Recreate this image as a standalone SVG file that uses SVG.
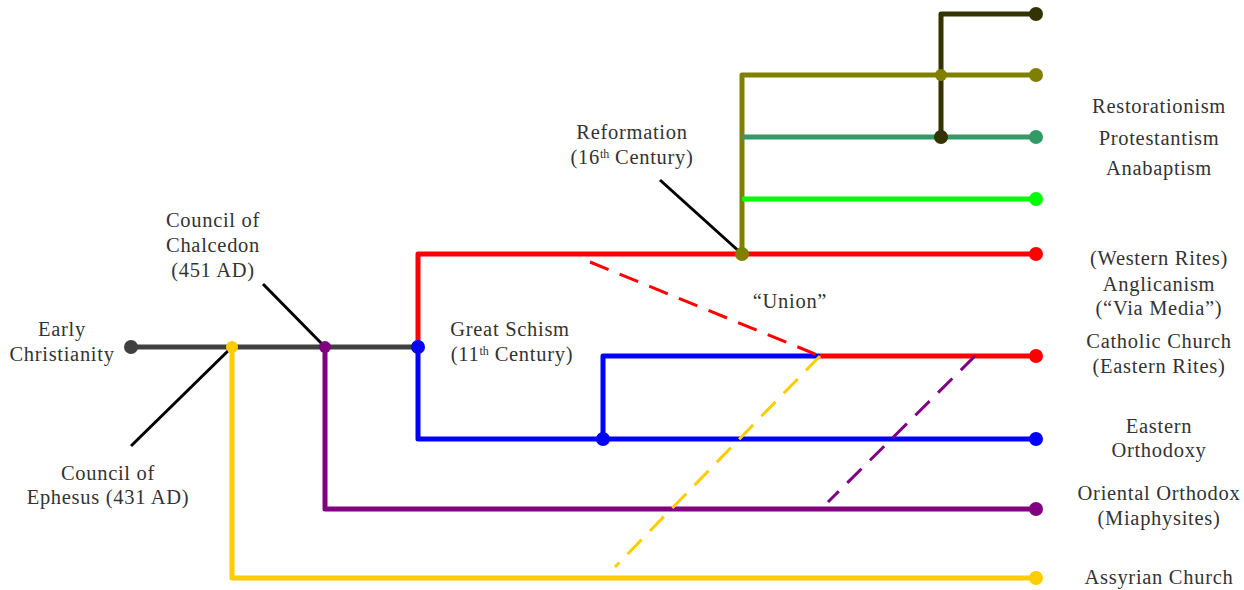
<svg xmlns="http://www.w3.org/2000/svg" width="1244" height="590" viewBox="0 0 1244 590">
  <style>
    .ln { fill: none; stroke-width: 5; stroke-linejoin: round; }
    .dash { fill: none; stroke-width: 3; stroke-dasharray: 20 12; }
    .lead { fill: none; stroke: #000; stroke-width: 3; }
    .t { font-family: "Liberation Serif", "Times New Roman", serif; font-size: 20.5px; letter-spacing: 0.7px; fill: #333; text-anchor: middle; }
    .sup { font-size: 12px; letter-spacing: 0; }
  </style>
  <rect width="1244" height="590" fill="#fff"/>

  <!-- branch lines -->
  <g id="connectors">
    <path class="ln" stroke="#ffcc00" d="M232,347 V578 H1036"/>
    <path class="ln" stroke="#800080" d="M325,347 V509 H1036"/>
    <path class="ln" stroke="#ff0000" d="M418,347 V254 H1036"/>
    <path class="ln" stroke="#0000ff" d="M418,347 V439 H1036"/>
    <path class="ln" stroke="#0000ff" d="M603,439 V356 H820"/>
    <path class="ln" stroke="#ff0000" d="M820,356 H1036"/>
    <path class="ln" stroke="#808000" d="M742,254 V75 H1036"/>
    <path class="ln" stroke="#339966" d="M742,137 H1036"/>
    <path class="ln" stroke="#00ff00" d="M742,199 H1036"/>
    <path class="ln" stroke="#333300" d="M941,137 V14 H1036"/>
    <path class="ln" stroke="#404040" d="M131,347 H418"/>
    <!-- unions -->
    <path class="dash" stroke="#ff0000" d="M590,262 L820,356"/>
    <path class="dash" stroke="#ffcc00" d="M820,356 L615,567"/>
    <path class="dash" stroke="#800080" d="M975,356 L828,502"/>
    <!-- event pointers -->
    <path class="lead" d="M660,180 L742,254"/>
    <path class="lead" d="M263,284 L325,347"/>
    <path class="lead" d="M131,446 L232,347"/>
  </g>

  <!-- branch points and tips -->
  <g id="early-christianity"><circle cx="131" cy="347" r="7" fill="#404040"/></g>
  <g id="ephesus-split"><circle cx="232" cy="347" r="6" fill="#ffcc00"/></g>
  <g id="chalcedon-split"><circle cx="325" cy="347" r="6" fill="#800080"/></g>
  <g id="great-schism-split"><circle cx="418" cy="347" r="7" fill="#0000ff"/></g>
  <g id="eastern-split"><circle cx="603" cy="439" r="7" fill="#0000ff"/></g>
  <g id="reformation-split"><circle cx="742" cy="254" r="7" fill="#808000"/></g>
  <g id="olive-junction"><circle cx="941" cy="75" r="6" fill="#808000"/></g>
  <g id="restoration-split"><circle cx="941" cy="137" r="7" fill="#333300"/></g>
  <g id="tips">
    <circle cx="1036" cy="14" r="7" fill="#333300"/>
    <circle cx="1036" cy="75" r="7" fill="#808000"/>
    <circle cx="1036" cy="137" r="7" fill="#339966"/>
    <circle cx="1036" cy="199" r="7" fill="#00ff00"/>
    <circle cx="1036" cy="254" r="7" fill="#ff0000"/>
    <circle cx="1036" cy="356" r="7" fill="#ff0000"/>
    <circle cx="1036" cy="439" r="7" fill="#0000ff"/>
    <circle cx="1036" cy="509" r="7" fill="#800080"/>
    <circle cx="1036" cy="578" r="7" fill="#ffcc00"/>
  </g>

  <!-- event labels -->
  <g id="label-early">
    <text class="t" x="62" y="336">Early</text>
    <text class="t" x="62" y="361">Christianity</text>
  </g>
  <g id="label-chalcedon">
    <text class="t" x="213" y="227">Council of</text>
    <text class="t" x="213" y="252">Chalcedon</text>
    <text class="t" x="213" y="277">(451 AD)</text>
  </g>
  <g id="label-ephesus">
    <text class="t" x="108" y="480">Council of</text>
    <text class="t" x="108" y="504">Ephesus (431 AD)</text>
  </g>
  <g id="label-schism">
    <text class="t" x="510" y="336">Great Schism</text>
    <text class="t" x="512" y="361">(11<tspan class="sup" dy="-6">th</tspan><tspan dy="6"> Century)</tspan></text>
  </g>
  <g id="label-reformation">
    <text class="t" x="632" y="139">Reformation</text>
    <text class="t" x="632" y="164">(16<tspan class="sup" dy="-6">th</tspan><tspan dy="6"> Century)</tspan></text>
  </g>
  <g id="label-union"><text class="t" x="790" y="308">“Union”</text></g>

  <!-- tradition labels -->
  <g id="label-restorationism"><text class="t" x="1159" y="113">Restorationism</text></g>
  <g id="label-protestantism"><text class="t" x="1159" y="145">Protestantism</text></g>
  <g id="label-anabaptism"><text class="t" x="1159" y="175">Anabaptism</text></g>
  <g id="label-anglicanism">
    <text class="t" x="1159" y="265">(Western Rites)</text>
    <text class="t" x="1159" y="291">Anglicanism</text>
    <text class="t" x="1159" y="315">(“Via Media”)</text>
  </g>
  <g id="label-catholic">
    <text class="t" x="1159" y="348">Catholic Church</text>
    <text class="t" x="1159" y="373">(Eastern Rites)</text>
  </g>
  <g id="label-orthodoxy">
    <text class="t" x="1159" y="433">Eastern</text>
    <text class="t" x="1159" y="457">Orthodoxy</text>
  </g>
  <g id="label-oriental">
    <text class="t" x="1159" y="500">Oriental Orthodox</text>
    <text class="t" x="1159" y="525">(Miaphysites)</text>
  </g>
  <g id="label-assyrian"><text class="t" x="1159" y="584">Assyrian Church</text></g>
</svg>
